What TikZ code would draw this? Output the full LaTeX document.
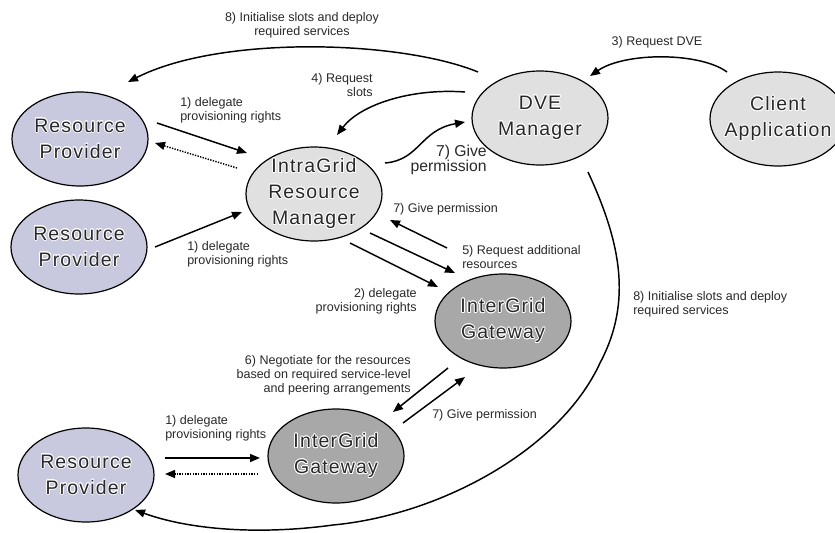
\documentclass[tikz,border=0pt]{standalone}
\usepackage{fontspec}
\usepackage[copies]{contour}
\setmainfont{Liberation Sans}
\newfontfamily\nodefont[LetterSpace=6]{Liberation Sans}
\usetikzlibrary{arrows.meta,calc,shapes.geometric}

\definecolor{rpfill}{RGB}{200,200,222}
\definecolor{mgrfill}{RGB}{224,224,224}
\definecolor{gwfill}{RGB}{168,168,168}
\definecolor{labelcol}{RGB}{40,40,40}
\definecolor{nodetext}{RGB}{40,40,40}

% node captions: dark letters with a thin white rim
\contourlength{0.6pt}
\contournumber{16}
\newcommand\rim[1]{\contour{white}{#1}}

\begin{document}
\begin{tikzpicture}[x=0.75pt,y=-0.75pt,
  blob/.style={ellipse,draw=black,line width=0.9pt,
    minimum width=102pt,minimum height=70.5pt,
    inner xsep=-40pt,inner ysep=-20pt,align=center,
    font=\nodefont\fontsize{14.6}{19.5}\selectfont,text=nodetext},
  provider/.style={blob,fill=rpfill},
  manager/.style={blob,fill=mgrfill},
  gateway/.style={blob,fill=gwfill},
  conn/.style={line width=1.1pt,draw=black,
    -{Triangle[length=7.5pt,width=6pt]}},
  back/.style={conn,dash pattern=on 1pt off 1pt},
  lbl/.style={inner sep=0pt,font=\fontsize{9.4}{10.5}\selectfont,text=labelcol},
  biglbl/.style={inner sep=0pt,font=\fontsize{11.8}{11}\selectfont,text=labelcol},
]
\useasboundingbox (0,0) rectangle (835,532);
\clip (0,0) rectangle (835,532);

% participants
\node[provider] (rp1)    at (80,139)  {\rim{Resource}\\\rim{Provider}};
\node[provider] (rp2)    at (79,247)  {\rim{Resource}\\\rim{Provider}};
\node[provider] (rp3)    at (86,475)  {\rim{Resource}\\\rim{Provider}};
\node[manager]  (irm)    at (314,194) {\fontsize{14.6}{17}\selectfont \rim{IntraGrid}\\\rim{Resource}\\\rim{Manager}};
\node[manager]  (dve)    at (540,118) {\rim{DVE}\\\rim{Manager}};
\node[manager]  (client) at (778,119) {\rim{Client}\\\rim{Application}};
\node[gateway]  (igg1)   at (503,321) {\rim{InterGrid}\\\rim{Gateway}};
\node[gateway]  (igg2)   at (336,456) {\rim{InterGrid}\\\rim{Gateway}};

% delegation from the providers
\draw[conn] ($(rp1)+(77,-16)$) -- ($(irm)+(-67,-41)$);
\draw[back] ($(irm)+(-77,-26)$) -- ($(rp1)+(75,4)$);
\draw[conn] ($(rp2)+(76,0)$) -- ($(irm)+(-72,18)$);
\draw[conn] ($(rp3)+(79,-17)$) -- ($(igg2)+(-76,2)$);
\draw[back] ($(igg2)+(-78,18)$) -- ($(rp3)+(79,-1)$);

% DVE request chain
\draw[conn] ($(client)+(-51,-47)$) .. controls (700,52) and (625,52) .. ($(dve)+(50,-42)$);
\draw[conn] ($(dve)+(-75,-26)$) .. controls (410,88) and (360,105) .. ($(irm)+(23,-59)$);
\draw[conn] ($(dve)+(-62,-46)$) .. controls (400,40) and (220,35) .. ($(rp1)+(48,-57)$);
\draw[conn] ($(irm)+(71,-31)$) .. controls (420,160) and (420,130) .. ($(dve)+(-75,4)$);

% IntraGrid manager and gateways
\draw[conn] ($(igg1)+(-56,-73)$) -- ($(irm)+(76,26)$);
\draw[conn] ($(irm)+(56,39)$) -- ($(igg1)+(-48,-48)$);
\draw[conn] ($(irm)+(36,49)$) -- ($(igg1)+(-65,-34)$);
\draw[conn] ($(igg1)+(-55,47)$) -- ($(igg2)+(57,-44)$);
\draw[conn] ($(igg2)+(67,-33)$) -- ($(igg1)+(-38,56)$);

% slot initialisation on the remote provider
\draw[conn] ($(dve)+(48,54)$) .. controls (620,241) and (633,301) .. (600,363)
  .. controls (560,450) and (440,515) .. (333,525)
  .. controls (260,535) and (190,530) .. ($(rp3)+(49,35)$);

% labels
\node[lbl,anchor=west,align=left]  (t1a) at (180,110) {1) delegate\\provisioning rights};
\node[lbl,anchor=west,align=left]  (t1b) at (187,254.5) {1) delegate\\provisioning rights};
\node[lbl,anchor=west,align=left]  (t1c) at (165,428.5) {1) delegate\\provisioning rights};
\node[lbl] (t3) at (657,42) {3) Request DVE};
\node[lbl,anchor=east,align=right] (t4) at (373,85) {4) Request\\slots};
\node[lbl,align=center] (t8a) at (302,25) {8) Initialise slots and deploy\\required services};
\node[biglbl,anchor=east,align=right] (t7a) at (487,160) {7) Give\\permission};
\node[lbl,anchor=west] (t7b) at (393,209) {7) Give permission};
\node[lbl,anchor=west,align=left] (t5) at (462,257.5) {5) Request additional\\resources};
\node[lbl,anchor=east,align=right] (t2) at (417,301) {2) delegate\\provisioning rights};
\node[lbl,anchor=west,align=left] (t8b) at (633,304.5) {8) Initialise slots and deploy\\required services};
\node[lbl,anchor=east,align=right] (t6) at (411,375) {6) Negotiate for the resources\\based on required service-level\\and peering arrangements};
\node[lbl,anchor=west] (t7c) at (432,415) {7) Give permission};
\end{tikzpicture}
\end{document}
